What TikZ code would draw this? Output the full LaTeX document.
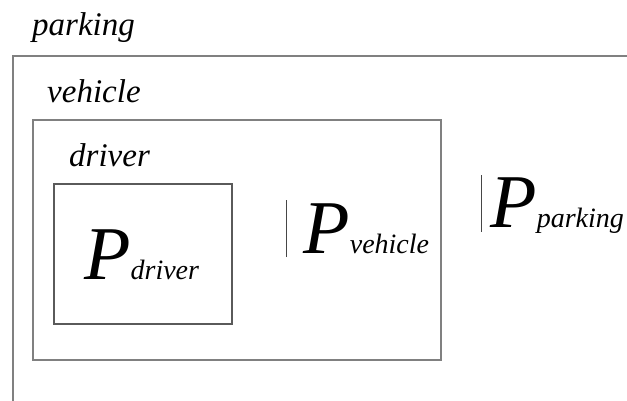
\documentclass[tikz,border=0pt]{standalone}
\usepackage{fontspec}
\setmainfont{Liberation Serif}
\usetikzlibrary{positioning}

\definecolor{framegray}{RGB}{128,128,128}
\definecolor{innergray}{RGB}{90,90,90}
\definecolor{bargray}{RGB}{70,70,70}
\newcommand{\subtxt}[1]{{\fontsize{28}{28}\selectfont #1}}
\newcommand{\condbar}{\textcolor{bargray}{\rule[-4pt]{1.2pt}{57pt}}}

\begin{document}
\begin{tikzpicture}[x=1pt, y=-1pt,
  frame/.style={draw=framegray, line width=1.6pt, inner sep=0pt},
  lbl/.style={anchor=base west, inner sep=0pt, font=\fontsize{33}{33}\selectfont\itshape},
  prob/.style={anchor=base west, inner sep=0pt, font=\fontsize{76}{76}\selectfont\itshape}]
\useasboundingbox (0,0) rectangle (627,401);
\clip (0,0) rectangle (627,401);

% nested frames
\node[frame, minimum width=647pt, minimum height=374pt] (parking) at (336.5,243) {};
\node[frame, minimum width=408pt, minimum height=240pt] (vehicle) at (237,240) {};
\node[frame, draw=innergray, minimum width=178pt, minimum height=140pt] (driver) at (143,254) {};

% frame labels
\node[lbl] (parkinglbl) at (32,36) {parking};
\node[lbl] (vehiclelbl) at (47,103) {vehicle};
\node[lbl] (driverlbl) at (69,167) {driver};

% probabilities
\node[prob] (pdriver) at (84,279) {P\subtxt{driver}};
\node[prob] (pvehicle) at (286,253) {\condbar\hspace{16pt}P\subtxt{vehicle}};
\node[prob] (pparking) at (481,228) {\condbar\hspace{8pt}P\subtxt{parking}};
\end{tikzpicture}
\end{document}
